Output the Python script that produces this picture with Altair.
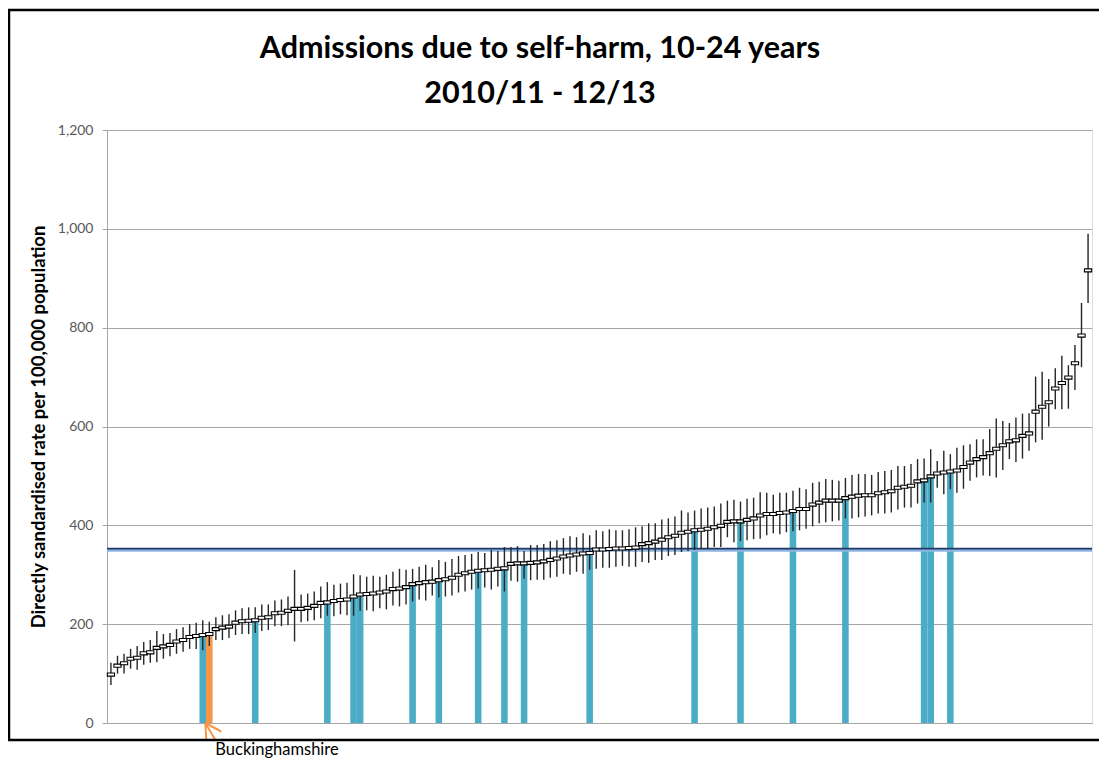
import altair as alt
import pandas as pd

# ---------------- data ----------------
rates = [98, 116, 121, 130, 132, 141, 143, 152, 155, 158,
         165, 168, 174, 176, 178, 180, 190, 193, 195, 203,
         206, 207, 208, 213, 214, 222, 223, 227, 231, 231,
         233, 237, 243, 244, 247, 249, 250, 256, 260, 261,
         262, 264, 266, 271, 272, 275, 281, 283, 285, 286,
         289, 291, 294, 300, 303, 306, 308, 309, 310, 312,
         313, 322, 323, 323, 324, 325, 327, 330, 333, 337,
         339, 341, 343, 344, 351, 351, 352, 353, 353, 354,
         355, 362, 364, 367, 371, 376, 379, 385, 387, 390,
         391, 393, 396, 399, 407, 408, 408, 411, 414, 420,
         423, 423, 425, 426, 429, 433, 433, 442, 446, 450,
         450, 450, 455, 458, 460, 461, 461, 465, 467, 469,
         476, 478, 480, 489, 491, 499, 505, 507, 509, 511,
         518, 527, 534, 538, 546, 555, 562, 570, 572, 581,
         586, 630, 640, 649, 677, 688, 699, 728, 784, 916]

lower = [77, 100, 100, 110, 108, 118, 122, 123, 130, 135,
         140, 144, 150, 150, 147, 156, 168, 168, 172, 178,
         180, 180, 182, 186, 188, 196, 196, 198, 165, 204,
         206, 208, 212, 217, 216, 220, 218, 217, 227, 228,
         226, 232, 230, 238, 236, 240, 246, 250, 248, 258,
         254, 256, 258, 264, 266, 270, 272, 274, 270, 276,
         266, 288, 286, 292, 289, 290, 290, 294, 296, 302,
         300, 306, 302, 310, 312, 314, 314, 316, 318, 316,
         316, 326, 324, 330, 330, 338, 340, 346, 348, 350,
         352, 352, 356, 356, 376, 366, 368, 370, 372, 373,
         380, 384, 382, 386, 388, 390, 393, 398, 404, 406,
         408, 410, 414, 414, 416, 418, 420, 424, 424, 426,
         432, 436, 436, 444, 446, 446, 476, 463, 473, 466,
         474, 490, 497, 501, 500, 497, 512, 534, 528, 535,
         551, 568, 573, 600, 635, 635, 636, 674, 720, 850]

upper = [122, 136, 140, 150, 156, 164, 168, 186, 180, 182,
         190, 194, 200, 203, 208, 205, 214, 218, 220, 228,
         232, 234, 234, 240, 240, 248, 250, 256, 310, 260,
         262, 266, 276, 285, 280, 282, 284, 301, 299, 296,
         298, 296, 300, 306, 312, 310, 312, 316, 320, 315,
         330, 326, 332, 338, 340, 342, 346, 344, 350, 348,
         356, 356, 358, 348, 360, 360, 362, 368, 370, 374,
         378, 376, 384, 380, 390, 388, 392, 390, 390, 392,
         396, 398, 404, 404, 412, 414, 418, 430, 426, 430,
         434, 436, 438, 444, 450, 452, 448, 454, 456, 467,
         466, 462, 466, 466, 470, 476, 473, 486, 488, 494,
         492, 490, 496, 502, 504, 504, 502, 508, 510, 512,
         520, 520, 524, 534, 535, 554, 530, 551, 544, 557,
         562, 564, 574, 574, 595, 616, 611, 607, 618, 626,
         627, 701, 711, 696, 718, 743, 724, 765, 850, 990]

highlighted = [14, 22, 33, 37, 38, 46, 50, 56, 60, 63, 73, 89, 96,
               104, 112, 124, 125, 128]
bucks_index = 15
bucks_name = "Buckinghamshire"
england_rate = 353
england_band = 349.5
y_ticks = [0, 200, 400, 600, 800, 1000, 1200]
title_lines = ["Admissions due to self-harm, 10-24 years", "2010/11 - 12/13"]
y_title = "Directly sandardised  rate per 100,000 population"

areas = [bucks_name if i == bucks_index else f"Area {i + 1:03d}"
         for i in range(len(rates))]
groups = ["Buckinghamshire" if i == bucks_index else
          ("highlight" if i in highlighted else "none")
          for i in range(len(rates))]

df = pd.DataFrame({"area": areas, "rate": rates, "lower": lower,
                   "upper": upper, "group": groups})

W, H = 985, 593
BLUE = "#4BACC6"
ORANGE = "#F79646"
GRID = "#A6A6A6"
TITLE_FONT = "Lato"

x_enc = alt.X("area:N", sort=areas,
              scale=alt.Scale(paddingInner=0, paddingOuter=0.1),
              axis=alt.Axis(labels=False, ticks=False, title=None,
                            domainColor=GRID, grid=False))
y_axis = alt.Axis(values=y_ticks, format=",.0f", title=y_title,
                  grid=True, gridColor=GRID, domainColor=GRID,
                  tickColor=GRID, tickSize=5, labelPadding=9,
                  labelFont="Lato", labelFontSize=14, labelColor="#595959",
                  titleFont="Lato", titleFontSize=18.5, titleFontWeight="bold",
                  titleColor="black", titlePadding=9)
y_scale = alt.Scale(domain=[0, 1200], nice=False)

base = alt.Chart(df)

bars = base.mark_bar().encode(
    x=x_enc,
    y=alt.Y("rate:Q", scale=y_scale, axis=y_axis),
    color=alt.Color("group:N",
                    scale=alt.Scale(domain=["highlight", "Buckinghamshire"],
                                    range=[BLUE, ORANGE]),
                    legend=None),
).transform_filter(alt.datum.group != "none")

band_line = alt.Chart(pd.DataFrame({"v": [england_band]})).mark_rule(
    color="#8DB4E2", strokeWidth=3).encode(y=alt.Y("v:Q", scale=y_scale))
avg_line = alt.Chart(pd.DataFrame({"v": [england_rate]})).mark_rule(
    color="#1F3864", strokeWidth=1.8).encode(y=alt.Y("v:Q", scale=y_scale))

errbars = base.mark_rule(color="#262626", strokeWidth=1.4).encode(
    x=x_enc, y=alt.Y("lower:Q", scale=y_scale), y2="upper:Q")

markers = base.mark_point(
    shape="M-1,-0.42H1V0.42H-1Z", size=52, filled=True, fill="white",
    stroke="black", strokeWidth=1.1, opacity=1).encode(
    x=x_enc, y=alt.Y("rate:Q", scale=y_scale))

bucks_df = df[df["area"] == bucks_name].assign(zero=0)
arrow = alt.Chart(bucks_df).mark_point(
    shape="M-0.4,0L-0.3,1.7M-0.4,0L1.2,0.85M-0.4,0L0.6,1.7",
    size=400, filled=False, stroke=ORANGE, strokeWidth=2, opacity=1).encode(
    x=x_enc, y=alt.Y("zero:Q", scale=y_scale))
label = alt.Chart(bucks_df).mark_text(
    align="left", baseline="alphabetic", dx=6, dy=32, font="Lato",
    fontSize=16.5, color="black").encode(
    x=x_enc, y=alt.Y("zero:Q", scale=y_scale), text="area:N")

frame = alt.Chart(bucks_df).mark_rect(
    filled=False, stroke="black", strokeWidth=2.5).encode(
    x=alt.value(-98), x2=alt.value(W + 30),
    y=alt.value(-120), y2=alt.value(610))

title1 = alt.Chart(bucks_df).mark_text(
    align="center", baseline="alphabetic", font=TITLE_FONT, fontSize=30.5,
    fontWeight="bold", color="black").encode(
    x=alt.value(433), y=alt.value(-72), text=alt.value(title_lines[0]))
title2 = alt.Chart(bucks_df).mark_text(
    align="center", baseline="alphabetic", font=TITLE_FONT, fontSize=30.5,
    fontWeight="bold", color="black").encode(
    x=alt.value(433), y=alt.value(-27), text=alt.value(title_lines[1]))

chart = alt.layer(
    bars, band_line, avg_line, errbars, markers, arrow, label, frame,
    title1, title2
).properties(
    width=W, height=H,
    autosize=alt.AutoSizeParams(type="none"),
    padding={"left": 99, "top": 122, "right": 7, "bottom": 37},
).configure_view(stroke=None).configure(background="white")

chart.save("out.html", embed_options={"renderer": "svg", "actions": False})
